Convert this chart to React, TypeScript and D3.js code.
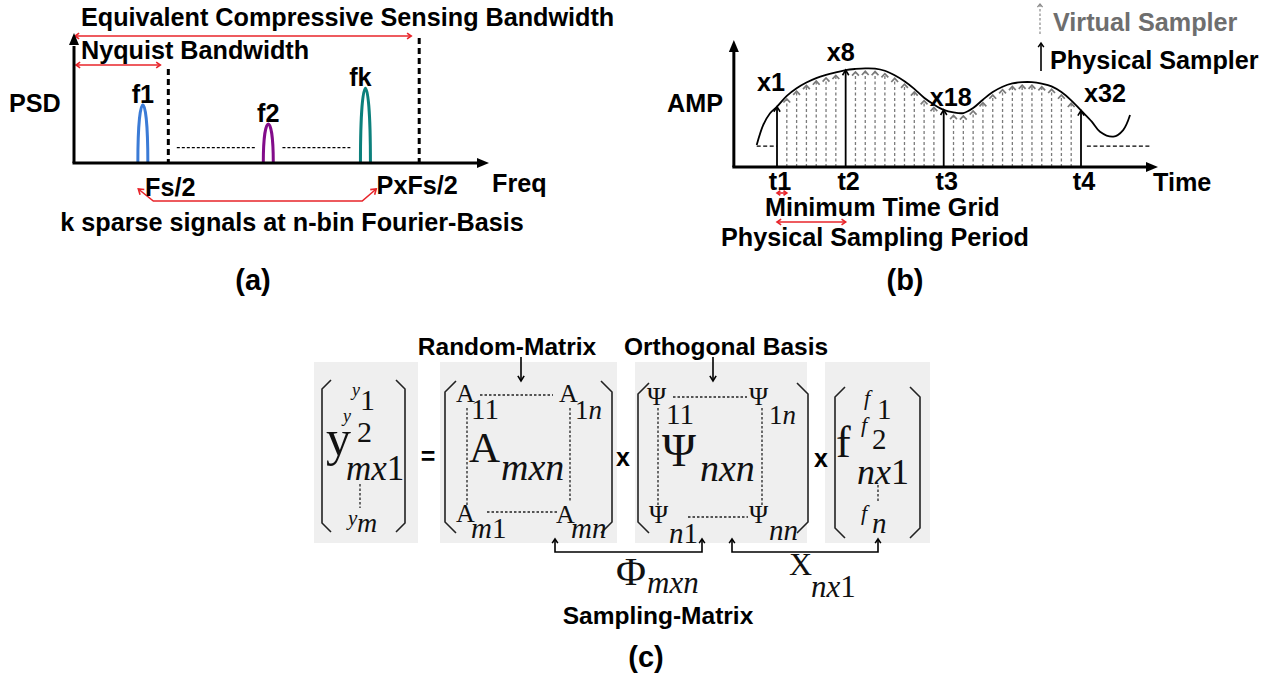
import React from "react";
import * as d3 from "d3";

const W = 1272;
const H = 679;
const SANS = "'Liberation Sans', Arial, sans-serif";
const SERIF = "'Liberation Serif', 'Times New Roman', serif";
const RED = "#e8242a";
const FS = 25.2;

// ---- (a) spectrum ----
const peakLabels = ["f1", "f2", "fk"];
const peakFreqs = [0.73, 2.06, 3.09];
const peakHeights = [0.456, 0.304, 0.584];
const peakColors = ["#3b7bd6", "#820c8a", "#0c807c"];
const nyquistFreq = 1;
const csFreq = 3.66;
const freqMax = 4.4;
const gapSegments = [
  [1.09, 1.93],
  [2.21, 2.93],
];
const gapLevel = 0.12;

// ---- (b) sampling ----
const sampleAmps = [
  0.475, 0.56, 0.62, 0.665, 0.7, 0.725, 0.745, 0.763, 0.772, 0.777, 0.775,
  0.758, 0.722, 0.675, 0.615, 0.545, 0.492, 0.45, 0.43, 0.425, 0.465, 0.53,
  0.59, 0.632, 0.658, 0.668, 0.668, 0.656, 0.635, 0.59, 0.525, 0.445,
];
const physicalIdx = [1, 8, 18, 32];
const physicalLabels = ["x1", "x8", "x18", "x32"];
const timeLabels = ["t1", "t2", "t3", "t4"];
const leadCurve = [
  [-1.07, 0.173],
  [-0.4, 0.331],
  [0.29, 0.423],
];
const tailCurve = [
  [33.1, 0.357],
  [33.94, 0.278],
  [35.3, 0.239],
  [36.3, 0.291],
  [37.0, 0.409],
];
const holdLevel = 0.165;
const holdSegments = [
  [-1.07, 1],
  [32.6, 39.0],
];

// label offsets for the physical sample names (layout only)
const physLabelDx = [-6, -5, 7, 24];
const physLabelDy = [-25, -18, -13, -17];

const chevron = (tx: number, ty: number, fx: number, fy: number, len = 5, spread = 0.6) => {
  const a = Math.atan2(fy - ty, fx - tx);
  const p1 = [tx + len * Math.cos(a + spread), ty + len * Math.sin(a + spread)];
  const p2 = [tx + len * Math.cos(a - spread), ty + len * Math.sin(a - spread)];
  return `M${p1[0]},${p1[1]}L${tx},${ty}L${p2[0]},${p2[1]}`;
};

const triHead = (tx: number, ty: number, dir: "up" | "right", len = 12, half = 5) =>
  dir === "up"
    ? `M${tx},${ty}L${tx - half},${ty + len}L${tx + half},${ty + len}Z`
    : `M${tx},${ty}L${tx - len},${ty - half}L${tx - len},${ty + half}Z`;

const Label = ({ x, y, children, size = FS, anchor = "middle", fill = "#000" }: any) => (
  <text
    x={x}
    y={y}
    fontFamily={SANS}
    fontWeight="bold"
    fontSize={size}
    textAnchor={anchor}
    dominantBaseline="central"
    fill={fill}
  >
    {children}
  </text>
);

const PanelA = () => {
  const x = d3.scaleLinear().domain([0, freqMax]).range([74, 489]);
  const y = d3.scaleLinear().domain([0, 1]).range([163, 35]);
  const x0 = x(0);
  const y0 = y(0);
  const peakPath = (f: number, h: number) => {
    const cx = x(f);
    const top = y(h);
    const c = (top - 0.25 * y0) / 0.75;
    return `M${cx - 5},${y0}C${cx - 5},${c} ${cx + 5},${c} ${cx + 5},${y0}`;
  };
  return (
    <g>
      <Label x={81} y={17} anchor="start">Equivalent Compressive Sensing Bandwidth</Label>
      <Label x={81} y={50} anchor="start">Nyquist Bandwidth</Label>
      <Label x={9} y={103} anchor="start">PSD</Label>

      {/* red bandwidth arrows */}
      <g stroke={RED} strokeWidth={1.6} fill="none">
        <line x1={x0 + 1} y1={36} x2={x(csFreq) - 8} y2={36} />
        <path d={chevron(x0 + 1, 36, x0 + 10, 36)} />
        <path d={chevron(x(csFreq) - 8, 36, x(csFreq) - 18, 36)} />
        <line x1={x0 + 2} y1={65} x2={x(nyquistFreq) - 8} y2={65} />
        <path d={chevron(x0 + 2, 65, x0 + 10, 65)} />
        <path d={chevron(x(nyquistFreq) - 8, 65, x(nyquistFreq) - 18, 65)} />
        <path d={`M${x(nyquistFreq) - 30},189L${x(nyquistFreq) - 15},201L${x(csFreq) - 57},201L${x(csFreq) - 43},189`} />
        <path d={chevron(x(nyquistFreq) - 30, 189, x(nyquistFreq) - 15, 201, 6)} />
        <path d={chevron(x(csFreq) - 43, 189, x(csFreq) - 57, 201, 6)} />
      </g>

      {/* dashed bandwidth limits */}
      <line x1={x(nyquistFreq)} y1={69} x2={x(nyquistFreq)} y2={y0} stroke="#000" strokeWidth={3} strokeDasharray="6,4" />
      <line x1={x(csFreq)} y1={38} x2={x(csFreq)} y2={y0} stroke="#000" strokeWidth={3} strokeDasharray="6,4" />

      {gapSegments.map((s, i) => (
        <line key={i} x1={x(s[0])} x2={x(s[1])} y1={y(gapLevel)} y2={y(gapLevel)} stroke="#000" strokeWidth={1.3} strokeDasharray="3,2" />
      ))}

      {peakFreqs.map((f, i) => (
        <g key={i}>
          <path d={peakPath(f, peakHeights[i])} stroke={peakColors[i]} strokeWidth={3} fill="none" />
          <Label x={x(f) + (i === 2 ? -5 : 0)} y={y(peakHeights[i]) - 11}>
            {peakLabels[i]}
          </Label>
        </g>
      ))}

      {/* axes */}
      <line x1={x0} y1={y0} x2={x0} y2={46} stroke="#000" strokeWidth={3} />
      <path d={triHead(x0, 33, "up")} fill="#000" />
      <line x1={x0 - 1.5} y1={y0} x2={x(freqMax) - 11} y2={y0} stroke="#000" strokeWidth={3} />
      <path d={triHead(x(freqMax), y0, "right")} fill="#000" />

      <Label x={x(nyquistFreq) + 2} y={187}>Fs/2</Label>
      <Label x={x(csFreq) - 2} y={185}>PxFs/2</Label>
      <Label x={492} y={183} anchor="start">Freq</Label>
      <Label x={292} y={222}>k sparse signals at n-bin Fourier-Basis</Label>
      <Label x={253} y={280} size={29}>(a)</Label>
    </g>
  );
};

const PanelB = () => {
  const x = d3.scaleLinear().domain([1, 32]).range([777, 1081]);
  const y = d3.scaleLinear().domain([0, 1]).range([167, 40]);
  const y0 = y(0);
  const axisX = x(-3.4);
  const pts: [number, number][] = [
    ...(leadCurve as [number, number][]),
    ...sampleAmps.map((a, i) => [i + 1, a] as [number, number]),
    ...(tailCurve as [number, number][]),
  ];
  const curve = d3
    .line<[number, number]>()
    .x((d) => x(d[0]))
    .y((d) => y(d[1]))
    .curve(d3.curveCatmullRom.alpha(0.5));

  return (
    <g>
      {/* virtual samplers */}
      {sampleAmps.map((a, i) =>
        physicalIdx.includes(i + 1) ? null : (
          <g key={i} stroke="#7a7a7a" fill="none">
            <line x1={x(i + 1)} x2={x(i + 1)} y1={y0} y2={y(a) + 3} strokeWidth={1.3} strokeDasharray="3,2.5" />
            <path d={chevron(x(i + 1), y(a) + 3, x(i + 1), y(a) + 10, 5, 0.75)} strokeWidth={1.7} />
          </g>
        )
      )}
      {/* physical samplers */}
      {physicalIdx.map((t, i) => (
        <g key={t}>
          <line x1={x(t)} x2={x(t)} y1={y0} y2={y(sampleAmps[t - 1])} stroke="#000" strokeWidth={1.8} />
          <path d={chevron(x(t), y(sampleAmps[t - 1]), x(t), y(sampleAmps[t - 1]) + 8, 6, 0.55)} stroke="#000" strokeWidth={1.6} fill="none" />
          <Label x={x(t) + physLabelDx[i]} y={y(sampleAmps[t - 1]) + physLabelDy[i]}>
            {physicalLabels[i]}
          </Label>
          <Label x={x(t) + 3} y={181}>
            {timeLabels[i]}
          </Label>
        </g>
      ))}

      <path d={curve(pts) || ""} fill="none" stroke="#000" strokeWidth={1.8} />

      {holdSegments.map((s, i) => (
        <line key={i} x1={x(s[0])} x2={x(s[1])} y1={y(holdLevel)} y2={y(holdLevel)} stroke="#000" strokeWidth={1.3} strokeDasharray="4,2.5" />
      ))}

      {/* axes */}
      <line x1={axisX} y1={y0} x2={axisX} y2={52} stroke="#000" strokeWidth={3} />
      <path d={triHead(axisX, 40, "up")} fill="#000" />
      <line x1={axisX - 1.5} y1={y0} x2={1146} y2={y0} stroke="#000" strokeWidth={3} />
      <path d={triHead(1158, y0, "right")} fill="#000" />

      <Label x={667} y={103} anchor="start">AMP</Label>
      <Label x={1153} y={182} anchor="start">Time</Label>

      {/* legend */}
      <line x1={1040} x2={1040} y1={34} y2={5} stroke="#8a8a8a" strokeWidth={1.2} strokeDasharray="2.5,2" />
      <path d={chevron(1040, 4, 1040, 10, 4, 0.7)} stroke="#8a8a8a" strokeWidth={1.3} fill="none" />
      <Label x={1053} y={22} anchor="start" fill="#6e6e6e">Virtual Sampler</Label>
      <line x1={1041} x2={1041} y1={71} y2={44} stroke="#000" strokeWidth={1.6} />
      <path d={chevron(1041, 43, 1041, 50, 5, 0.6)} stroke="#000" strokeWidth={1.5} fill="none" />
      <Label x={1050} y={60} anchor="start">Physical Sampler</Label>

      {/* grid / period markers */}
      <g stroke={RED} strokeWidth={1.6} fill="none">
        <line x1={x(1)} x2={x(2)} y1={193} y2={193} />
        <path d={chevron(x(1), 193, x(1) + 6, 193, 4)} />
        <path d={chevron(x(2), 193, x(2) - 6, 193, 4)} />
        <line x1={x(1)} x2={x(8)} y1={222} y2={222} />
        <path d={chevron(x(1), 222, x(1) + 8, 222, 5)} />
        <path d={chevron(x(8), 222, x(8) - 8, 222, 5)} />
      </g>
      <Label x={765} y={207} anchor="start">Minimum Time Grid</Label>
      <Label x={721} y={237} anchor="start">Physical Sampling Period</Label>
      <Label x={905} y={280} size={29}>(b)</Label>
    </g>
  );
};

const M = ({ x, y, size, italic = false, children }: any) => (
  <text x={x} y={y} fontFamily={SERIF} fontSize={size} fontStyle={italic ? "italic" : "normal"} fill="#111">
    {children}
  </text>
);

const bracketPair = (l: number, r: number, t: number, b: number, k = 10) => (
  <g stroke="#222" strokeWidth={1.6} fill="none">
    <path d={`M${l + k},${t}L${l},${t + k}L${l},${b - k}L${l + k},${b}`} />
    <path d={`M${r - k},${t}L${r},${t + k}L${r},${b - k}L${r - k},${b}`} />
  </g>
);

const dotted = (x1: number, y1: number, x2: number, y2: number, key?: any) => (
  <line key={key} x1={x1} y1={y1} x2={x2} y2={y2} stroke="#222" strokeWidth={1.3} strokeDasharray="2.5,2" />
);

const PanelC = () => {
  const boxes = [
    [314, 418],
    [440, 617],
    [635, 807],
    [825, 930],
  ];
  return (
    <g>
      {boxes.map((b, i) => (
        <rect key={i} x={b[0]} y={362} width={b[1] - b[0]} height={181} fill="#efefef" />
      ))}

      <Label x={507} y={346} size={24.5}>Random-Matrix</Label>
      <Label x={726} y={346} size={24.5}>Orthogonal Basis</Label>
      {[521, 713].map((ax) => (
        <g key={ax} stroke="#000" strokeWidth={1.6} fill="none">
          <line x1={ax} x2={ax} y1={357} y2={380} />
          <path d={chevron(ax, 381, ax, 374, 6, 0.55)} />
        </g>
      ))}

      {/* y vector */}
      {bracketPair(322, 405, 380, 532, 9)}
      <M x={326} y={455} size={50}>y</M>
      <M x={352} y={396} size={18} italic>y</M>
      <M x={360} y={410} size={30}>1</M>
      <M x={343} y={422} size={18} italic>y</M>
      <M x={357} y={442} size={30}>2</M>
      <M x={346} y={480} size={35} italic>mx<tspan fontStyle="normal">1</tspan></M>
      {dotted(360, 484, 360, 508)}
      <M x={348} y={525} size={21} italic>y</M>
      <M x={357} y={532} size={28} italic>m</M>

      <Label x={428} y={456} size={25}>=</Label>

      {/* A matrix */}
      {bracketPair(445, 612, 381, 533, 11)}
      <M x={456} y={402} size={26}>A</M>
      <M x={471} y={419} size={29}>11</M>
      {dotted(480, 395, 553, 395)}
      <M x={559} y={402} size={26}>A</M>
      <M x={575} y={419} size={27}>1<tspan fontStyle="italic">n</tspan></M>
      {dotted(467, 408, 467, 505)}
      {dotted(570, 408, 570, 502)}
      <M x={469} y={462} size={43}>A</M>
      <M x={501} y={480} size={38} italic>mxn</M>
      <M x={456} y={522} size={26}>A</M>
      <M x={471} y={538} size={29} italic>m<tspan fontStyle="normal">1</tspan></M>
      {dotted(487, 512, 558, 512)}
      <M x={556} y={523} size={26}>A</M>
      <M x={571} y={538} size={29} italic>mn</M>

      <Label x={623} y={457} size={25}>x</Label>

      {/* Psi matrix */}
      {bracketPair(638, 808, 383, 533, 11)}
      <M x={647} y={405} size={26}>Ψ</M>
      <M x={666} y={424} size={29}>11</M>
      {dotted(673, 397, 747, 397)}
      <M x={749} y={405} size={26}>Ψ</M>
      <M x={769} y={424} size={27}>1<tspan fontStyle="italic">n</tspan></M>
      {dotted(658, 408, 658, 505)}
      {dotted(762, 408, 762, 505)}
      <M x={662} y={466} size={46}>Ψ</M>
      <M x={700} y={481} size={38} italic>nxn</M>
      <M x={649} y={523} size={26}>Ψ</M>
      <M x={669} y={543} size={29} italic>n<tspan fontStyle="normal">1</tspan></M>
      {dotted(688, 517, 748, 517)}
      <M x={749} y={523} size={26}>Ψ</M>
      <M x={769} y={540} size={29} italic>nn</M>

      <Label x={821} y={458} size={25}>x</Label>

      {/* f vector */}
      {bracketPair(835, 920, 387, 538, 10)}
      <M x={864} y={405} size={22} italic>f</M>
      <M x={877} y={419} size={29}>1</M>
      <M x={836} y={457} size={44}>f</M>
      <M x={861} y={432} size={22} italic>f</M>
      <M x={872} y={449} size={29}>2</M>
      <M x={857} y={484} size={36} italic>nx<tspan fontStyle="normal">1</tspan></M>
      {dotted(878, 485, 878, 503)}
      <M x={861} y={520} size={22} italic>f</M>
      <M x={872} y={533} size={29} italic>n</M>

      {/* bottom braces */}
      {[
        [555, 702],
        [732, 878],
      ].map((s, i) => (
        <g key={i} stroke="#000" strokeWidth={1.6} fill="none">
          <path d={`M${s[0]},${540}L${s[0]},552L${s[1]},552L${s[1]},540`} />
          <path d={chevron(s[0], 539, s[0], 546, 5, 0.6)} />
          <path d={chevron(s[1], 539, s[1], 546, 5, 0.6)} />
        </g>
      ))}
      <M x={616} y={585} size={41}>Φ</M>
      <M x={647} y={593} size={31} italic>mxn</M>
      <M x={789} y={575} size={32}>X</M>
      <M x={811} y={597} size={31} italic>nx<tspan fontStyle="normal">1</tspan></M>

      <Label x={658} y={615} size={24.5}>Sampling-Matrix</Label>
      <Label x={646} y={657} size={29}>(c)</Label>
    </g>
  );
};

export default function App() {
  return (
    <svg
      width={W}
      height={H}
      viewBox={`0 0 ${W} ${H}`}
      style={{ position: "absolute", left: 0, top: 0, background: "#fff" }}
    >
      <rect width={W} height={H} fill="#fff" />
      <PanelA />
      <PanelB />
      <PanelC />
    </svg>
  );
}
